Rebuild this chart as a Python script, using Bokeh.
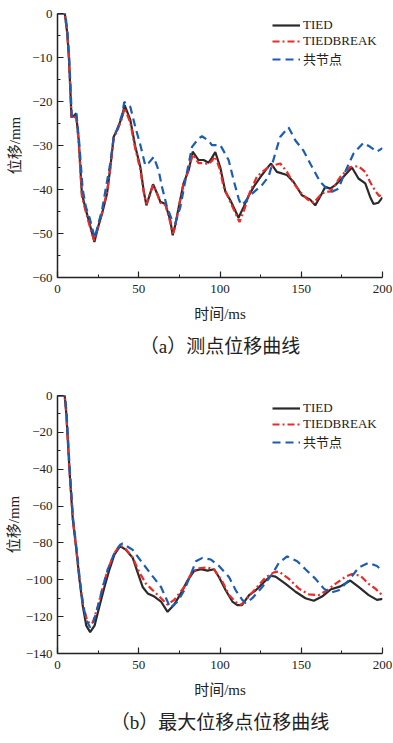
from bokeh.plotting import figure
from bokeh.layouts import column
from bokeh.models import Range1d, FixedTicker, Title
from bokeh.embed import file_html
from bokeh.resources import INLINE

# ---------------- data ----------------
series_names = ["TIED", "TIEDBREAK", "共节点"]

# (a) 测点位移曲线
a_tied_t = [0, 4.5, 6, 7, 8, 8.6, 10, 11.4, 13, 15, 17, 19.2, 21, 22.7, 25, 27.4, 30.5, 32.5, 34.6, 36.6,
            39.7, 41.3, 44.8, 47.9, 51, 53, 54.7, 56.5, 58.8, 61.3, 63.3, 66.4, 69.4, 70.9, 72.5, 74.6,
            77.6, 80.7, 83.2, 86.8, 89.9, 93, 95, 97.1, 100.2, 103.3, 106.3, 109, 111.4, 114.5, 117.5,
            120.7, 125.8, 128.9, 131.4, 135, 141.2, 145.3, 150.4, 155.5, 158.6, 162.7, 164.8, 167.8,
            170.9, 175, 181.2, 185.2, 189.4, 192.4, 194.5, 197.5, 200]
a_tied_d = [0, 0, -4.5, -9.9, -18.2, -23.5, -23.3, -22.7, -28.5, -40.9, -44, -47, -49.5, -51.9, -48.5,
            -45.5, -40.9, -35, -28, -26.5, -23.5, -20.8, -24.2, -30.3, -34.9, -40.2, -43.6, -41.5, -38.8,
            -40.9, -42.8, -43.3, -47, -50.4, -48, -44, -38.6, -35.6, -31.4, -33.3, -33.3, -33.9, -32.8,
            -31.5, -35, -40.5, -42.4, -44.5, -46.4, -44, -41.5, -39.4, -36.7, -35.2, -34.1, -36, -36.7,
            -38.3, -41.3, -42.3, -43.6, -40.9, -39.4, -39.8, -39, -37.5, -35, -37.5, -38.6, -41.7, -43.3,
            -43, -41.8]

a_break_t = [0, 4.5, 6, 7, 8, 8.6, 10, 11.4, 13, 15, 17, 19.2, 21, 22.7, 25, 27.4, 30.5, 32.5, 34.6, 36.6,
             39.7, 41.3, 44.8, 47.9, 51, 53, 54.7, 56.5, 58.8, 61.3, 63.3, 66.4, 69.4, 70.9, 72.5, 74.6,
             77.6, 80.7, 83.2, 86.8, 89.9, 93, 95, 97.1, 100, 102.2, 106.3, 109, 112, 115, 118.5, 122.7,
             126, 129.9, 133, 137.1, 141.2, 145.3, 150.4, 154, 157.6, 161.7, 164.8, 167.8, 170.9, 174,
             180.1, 185.2, 189.4, 192.4, 195.5, 198, 200]
a_break_d = [0, 0, -4.5, -9.9, -18.2, -23.8, -23.8, -23, -29, -41.5, -44.5, -47.5, -49.8, -51.6, -48.5,
             -45.2, -40.5, -35, -28.2, -26.8, -23.8, -21.5, -24.8, -30.8, -35.5, -40.5, -43.3, -41.5, -39,
             -41, -43, -43.5, -47.5, -50, -48.5, -44, -38.5, -35.5, -32, -34, -34, -34.2, -33.5, -32.5,
             -35.5, -39.4, -42.8, -45, -47.4, -44.5, -40.5, -37.1, -36, -34.9, -34.5, -34.1, -36, -38.6,
             -41, -42.3, -43, -41.3, -40.5, -40.5, -39, -37.1, -34.9, -34.7, -36, -38.3, -40.3, -41.5, -41]

a_node_t = [0, 4.8, 6.2, 7.2, 8.2, 8.8, 10, 11.6, 13.3, 15.5, 17.5, 19.8, 21.5, 22.9, 25, 27.5, 29.5, 32.5,
            34.6, 36.6, 39.7, 41.1, 44.8, 47.9, 51, 54, 56, 59.2, 62.2, 64.3, 67.4, 70, 72.5, 75.6, 78.7,
            82.8, 86.8, 88.9, 93, 95, 100.2, 105.3, 108.4, 111.4, 113, 115, 118.6, 125.8, 129.9, 134,
            137.1, 142.2, 146.3, 151.4, 155.5, 161.7, 166.8, 169, 172.9, 177, 182.2, 188.3, 192.4, 196.5,
            200]
a_node_d = [0, 0, -4.5, -9.9, -18.2, -23.5, -23.3, -22.7, -29, -40, -44, -46.5, -49, -51, -48, -44.5,
            -40.2, -34, -28, -26.5, -23, -20.1, -21.2, -25.8, -29.9, -34.5, -34, -32.6, -35.6, -39.4, -44,
            -46.5, -47.7, -44, -37.9, -30.3, -28.4, -27.9, -28.9, -29.9, -29.9, -33.3, -37.9, -42, -43.5,
            -43, -41.3, -39, -37.1, -31.8, -28, -25.9, -28.8, -31.2, -34.1, -38.3, -40.2, -40.5, -39.8,
            -36, -31.8, -29.4, -30.3, -31.4, -30.6]

# (b) 最大位移点位移曲线
b_tied_t = [0, 4.4, 5.4, 7.4, 9.4, 11.5, 13.6, 15.6, 17.7, 20.1, 22.8, 25.8, 28.9, 32, 35, 38.5, 42.2,
            46.3, 49.3, 52.4, 55.5, 59.6, 63.7, 67.7, 71.8, 75.9, 80, 84.1, 88.2, 92.3, 96.4, 99.4, 103.5,
            107.6, 110.7, 113.5, 117.9, 122, 127, 131.2, 134.2, 140.4, 146.5, 152.6, 157.7, 162.8, 168,
            174.1, 180.2, 185.3, 191.5, 196.6, 200]
b_tied_d = [0, 0, -9.4, -40.9, -67, -82.9, -100.4, -114.4, -124.9, -128.4, -124.9, -114.4, -103.9, -94.3,
            -86.4, -81.7, -83.8, -88.1, -96, -103.9, -107.4, -109.1, -111.8, -117.4, -113.5, -107.4,
            -100.4, -95.2, -94.3, -95, -94.3, -98.6, -105.7, -111.8, -113.8, -113.8, -108.3, -105.7,
            -101.3, -97.8, -98.3, -102.2, -106.5, -110, -111.4, -109.1, -105.3, -103.6, -100.4, -103.9,
            -108.3, -110.9, -110.4]

b_break_t = [0, 4.4, 5.4, 7.4, 9.4, 11.5, 13.6, 15.6, 17.7, 19.7, 21.7, 24.8, 27.9, 31, 35, 38.5, 42.2,
             46.3, 50.4, 54.5, 59.6, 63.7, 67.7, 71.8, 78, 82.1, 86.1, 92.3, 96.4, 101.5, 105.6, 110.7,
             113, 116.8, 122, 128.1, 133.2, 136.2, 142.4, 148.5, 154.6, 160.8, 165.9, 171, 177.2, 181.2,
             186.4, 191.5, 195.6, 198.6, 200]
b_break_d = [0, 0, -9.4, -40.9, -67, -82.9, -100, -113, -120.5, -124, -123.2, -114.4, -103.9, -94.3,
             -85.5, -81.2, -83.5, -88, -96, -102.2, -106.5, -110, -113.5, -110.9, -103.9, -96.9, -93.8,
             -93.3, -94.5, -101, -108.3, -113, -113.5, -110, -104.8, -98.6, -96, -95.5, -99.5, -104.8,
             -107.9, -108.3, -105.7, -102.2, -98.3, -96.9, -97.8, -102.2, -104.8, -107.4, -108]

b_node_t = [0, 4.6, 5.6, 7.6, 9.6, 11.7, 13.8, 15.8, 17.9, 20, 22, 25, 28, 31, 35, 38.5, 40.1, 46.3, 51.4,
            57.5, 63.7, 67.7, 69.4, 73.9, 78, 82.1, 85.2, 89.2, 94.4, 99.4, 105.6, 109.7, 113.7, 115.8,
            119.9, 126, 132.2, 136.2, 141.3, 147.5, 152.6, 158.8, 163.9, 168, 173.1, 179.2, 185.3, 191.5,
            196.6, 200]
b_node_d = [0, 0, -9.4, -40.9, -67, -82.9, -100.4, -114, -122, -125.8, -123.5, -114, -103.5, -94.3, -85.5,
            -81, -80.3, -83.8, -89.9, -96.9, -103.9, -111.8, -115.3, -111.8, -105.7, -96.9, -89.9, -88.1,
            -89, -92.5, -98.6, -105.7, -110.9, -112.6, -110, -103.9, -96.9, -90.8, -87.3, -89.9, -94.3,
            -99.5, -104.8, -107, -105.7, -100.4, -93.4, -90.8, -92.5, -95.2]

x_ticks = [0, 50, 100, 150, 200]
x_minor = [25, 75, 125, 175]
a_y_ticks = [0, -10, -20, -30, -40, -50, -60]
a_y_minor = [-5, -15, -25, -35, -45, -55]
b_y_ticks = [0, -20, -40, -60, -80, -100, -120, -140]
b_y_minor = [-10, -30, -50, -70, -90, -110, -130]

x_label = "时间/ms"
y_label = "位移/mm"
captions = ["（a）测点位移曲线", "（b）最大位移点位移曲线"]

# ---------------- styling ----------------
FONT = "Liberation Serif, Noto Sans CJK SC"
COLORS = ["#2a2a2a", "#ec2a26", "#1b5db3"]
DASHES = ["solid", "7 3 2 3", "8 5"]


def minus(v):
    return str(v).replace("-", "\u2212")


def make_panel(series, yr, yticks, yminor, caption, height, top, bottom, ylab_standoff, leg_y):
    p = figure(width=392, height=height, output_backend="svg", toolbar_location=None,
               x_range=Range1d(0, 200), y_range=Range1d(yr, 0),
               min_border_left=57, min_border_right=10, min_border_top=top, min_border_bottom=bottom)
    p.outline_line_color = None
    p.xgrid.visible = False
    p.ygrid.visible = False
    p.background_fill_color = "white"
    p.border_fill_color = "white"

    for (t, d), name, c, dash in zip(series, series_names, COLORS, DASHES):
        p.line(t, d, color=c, line_width=2.2, line_dash=dash, legend_label=name)

    for ax in (p.xaxis[0], p.yaxis[0]):
        ax.axis_line_color = "#222222"
        ax.axis_line_width = 1.5
        ax.major_tick_line_color = "#222222"
        ax.minor_tick_line_color = "#222222"
        ax.major_tick_line_width = 1.2
        ax.minor_tick_line_width = 1.0
        ax.major_tick_in = 6
        ax.major_tick_out = 0
        ax.minor_tick_in = 3
        ax.minor_tick_out = 0
        ax.major_label_text_font = FONT
        ax.major_label_text_font_size = "13px"
        ax.major_label_text_color = "#222222"
        ax.axis_label_text_font = FONT
        ax.axis_label_text_font_size = "15px"
        ax.axis_label_text_font_style = "normal"
        ax.axis_label_text_color = "#222222"

    p.xaxis.ticker = FixedTicker(ticks=x_ticks, minor_ticks=x_minor)
    p.yaxis.ticker = FixedTicker(ticks=yticks, minor_ticks=yminor)
    p.yaxis.major_label_overrides = {v: minus(v) for v in yticks}
    p.xaxis.major_label_standoff = 7
    p.yaxis.major_label_standoff = 5
    p.xaxis.axis_label = x_label
    p.yaxis.axis_label = y_label
    p.xaxis.axis_label_standoff = 10
    p.yaxis.axis_label_standoff = ylab_standoff

    lg = p.legend[0]
    lg.location = (215, leg_y)
    lg.border_line_color = None
    lg.background_fill_alpha = 0
    lg.label_text_font = FONT
    lg.label_text_font_size = "13px"
    lg.label_text_color = "#222222"
    lg.glyph_width = 28
    lg.glyph_height = 14
    lg.label_height = 14
    lg.spacing = 0
    lg.padding = 0
    lg.margin = 0
    lg.label_standoff = 3

    cap = Title(text=caption, align="center", text_font=FONT, text_font_size="19px",
                text_font_style="normal", text_color="#222222", standoff=18)
    p.add_layout(cap, "below")
    return p


pa = make_panel([(a_tied_t, a_tied_d), (a_break_t, a_break_d), (a_node_t, a_node_d)],
                -60, a_y_ticks, a_y_minor, captions[0], 366, 13, 89, 6, 209)
pb = make_panel([(b_tied_t, b_tied_d), (b_break_t, b_break_d), (b_node_t, b_node_d)],
                -140, b_y_ticks, b_y_minor, captions[1], 376, 29, 89, 1, 202)

layout = column(pa, pb, spacing=0)
open("out.html", "w").write(file_html(layout, INLINE))
